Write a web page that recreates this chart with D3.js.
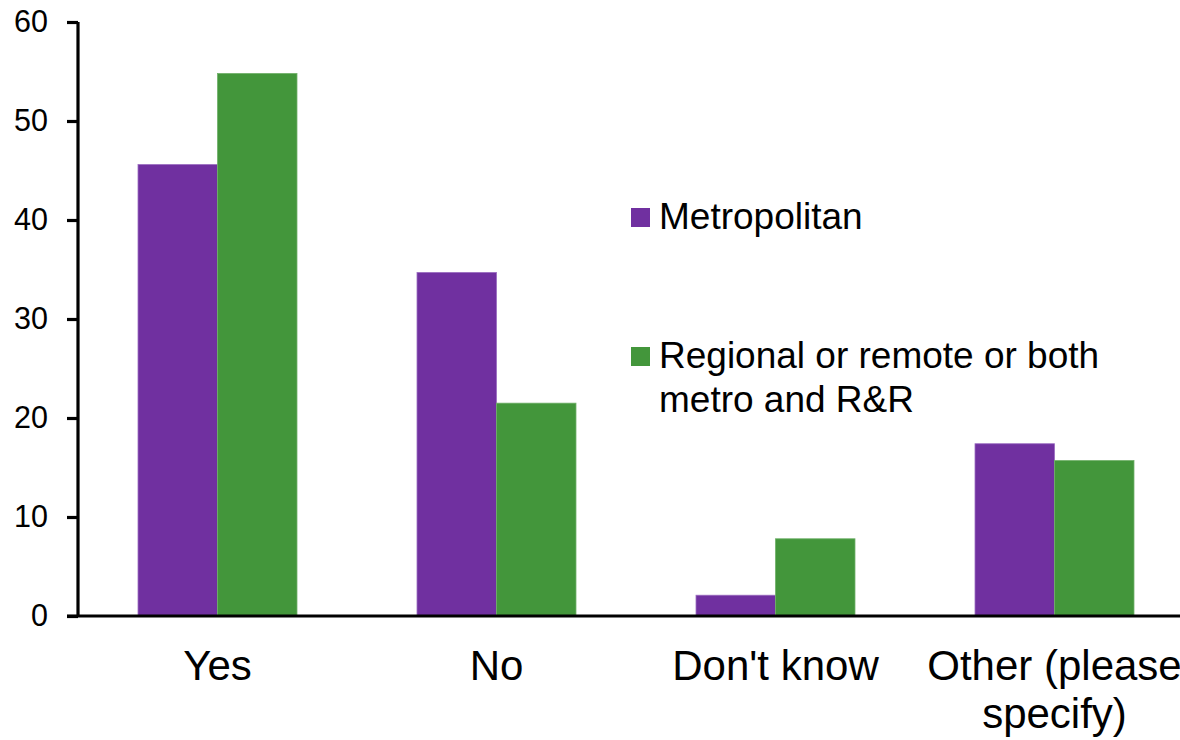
<!DOCTYPE html>
<html>
<head>
<meta charset="utf-8">
<script src="https://cdn.jsdelivr.net/npm/d3@7"></script>
<style>
  html, body { margin: 0; padding: 0; background: #ffffff; }
  svg { display: block; font-family: Arial, "Liberation Sans", sans-serif; }
</style>
</head>
<body>
<svg id="chart" width="1180" height="740"></svg>
<script>
// Survey responses by location (percent)
const categories = ["Yes", "No", "Don't know", "Other (please specify)"];
const seriesNames = ["Metropolitan", "Regional or remote or both metro and R&R"];
const metropolitan = [45.6, 34.7, 2.1, 17.4];
const regional = [54.8, 21.5, 7.8, 15.7];
const yTicks = [0, 10, 20, 30, 40, 50, 60];

const colors = ["#7030A0", "#43963B"];
const edgeColors = ["#9a6cc0", "#6fb068"];

const svg = d3.select("#chart");
const plotLeft = 78, plotRight = 1194, plotTop = 22, plotBottom = 616;

const x = d3.scaleBand().domain(categories).range([plotLeft, plotRight]).paddingInner(0).paddingOuter(0);
const xSub = d3.scaleBand().domain(seriesNames).range([0, x.bandwidth()]).paddingInner(0).paddingOuter(0.755);
const y = d3.scaleLinear().domain([0, 60]).range([plotBottom, plotTop]);

const rows = categories.map((c, i) => ({ cat: c, vals: [metropolitan[i], regional[i]] }));

// Bars
const groups = svg.append("g").selectAll("g")
  .data(rows).join("g")
  .attr("transform", d => `translate(${x(d.cat)},0)`);

groups.selectAll("rect")
  .data(d => d.vals.map((v, k) => ({ v, k })))
  .join("rect")
  .attr("x", d => xSub(seriesNames[d.k]))
  .attr("width", xSub.bandwidth())
  .attr("y", d => y(d.v))
  .attr("height", d => y(0) - y(d.v))
  .attr("fill", d => colors[d.k])
  .attr("stroke", d => edgeColors[d.k])
  .attr("stroke-width", 0.8);

// Y axis
const yAxis = d3.axisLeft(y).tickValues(yTicks).tickSize(11).tickPadding(19).tickFormat(d3.format("d"));
const yg = svg.append("g").attr("transform", `translate(${plotLeft},0)`).call(yAxis);
yg.select(".domain").attr("stroke", "#000").attr("stroke-width", 3.2).attr("d", `M0,${plotTop}V${plotBottom}`);
yg.selectAll(".tick line").attr("stroke", "#000").attr("stroke-width", 3.2);
yg.selectAll(".tick text").attr("font-size", 30.5).attr("fill", "#000")
  .attr("font-family", "Arial, 'Liberation Sans', sans-serif");

// X axis baseline
svg.append("line")
  .attr("x1", plotLeft - 11).attr("x2", 1180)
  .attr("y1", y(0)).attr("y2", y(0))
  .attr("stroke", "#000").attr("stroke-width", 3.2);

// Category labels (wrapped where the text is long)
const catLines = { "Other (please specify)": ["Other (please", "specify)"] };
const xl = svg.append("g").attr("font-size", 42).attr("fill", "#000").attr("text-anchor", "middle");
categories.forEach(c => {
  const lines = catLines[c] || [c];
  const cx = x(c) + x.bandwidth() / 2;
  const t = xl.append("text").attr("x", cx).attr("y", 680);
  lines.forEach((ln, i) => {
    t.append("tspan").attr("x", cx).attr("dy", i === 0 ? 0 : 48).text(ln);
  });
});

// Legend
const legendItems = [
  { lines: ["Metropolitan"], y: 229 },
  { lines: ["Regional or remote or both", "metro and R&R"], y: 368 }
];
const lg = svg.append("g");
legendItems.forEach((item, i) => {
  lg.append("rect").attr("x", 631).attr("y", item.y - 21).attr("width", 19).attr("height", 19)
    .attr("fill", colors[i]);
  const t = lg.append("text").attr("x", 659).attr("y", item.y).attr("font-size", 37).attr("fill", "#000");
  item.lines.forEach((ln, j) => {
    t.append("tspan").attr("x", 659).attr("dy", j === 0 ? 0 : 44).text(ln);
  });
});
</script>
</body>
</html>
